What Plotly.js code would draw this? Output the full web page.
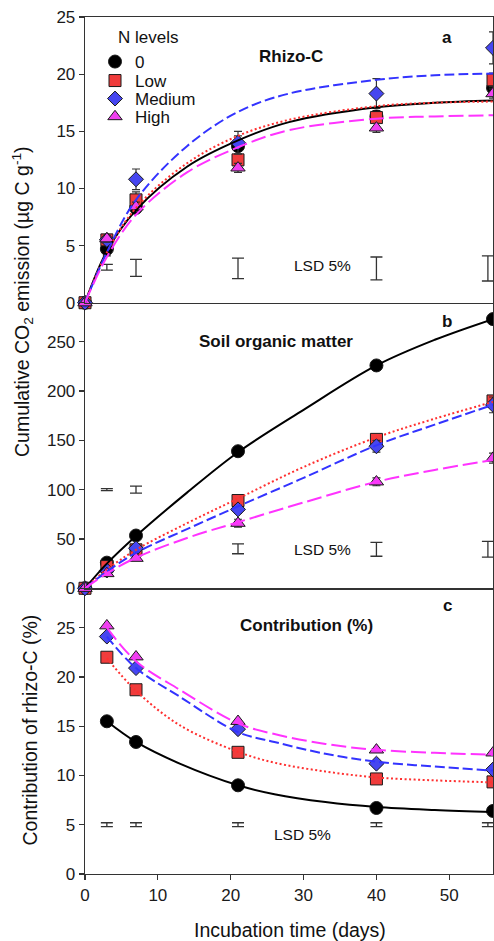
<!DOCTYPE html>
<html><head><meta charset="utf-8">
<script src="https://cdn.plot.ly/plotly-3.0.1.min.js"></script>
<style>html,body{margin:0;padding:0;background:#fff}#chart{width:494px;height:941px}</style>
</head><body><div id="chart"></div>
<script>
// ---------- data ----------
const levels = ['0', 'Low', 'Medium', 'High'];
const days = [0, 3, 7, 21, 40, 56];
const daysContrib = [3, 7, 21, 40, 56];

// Panel a: Rhizo-C cumulative CO2 (µg C g-1)
const rhizoZero   = [0, 4.7, 8.3, 13.7, 16.3, 18.8];
const rhizoLow    = [0, 5.5, 9.0, 12.5, 16.2, 19.5];
const rhizoMedium = [0, 5.5, 10.8, 14.0, 18.3, 22.3];
const rhizoHigh   = [0, 5.6, 8.4, 11.8, 15.3, 18.3];
const rhizoErrZero   = [0, 0.6, 0.4, 0.9, 0.5, 0.5];
const rhizoErrLow    = [0, 0.4, 0.7, 0.5, 0.4, 0.6];
const rhizoErrMedium = [0, 0.3, 0.9, 1.0, 1.3, 1.4];
const rhizoErrHigh   = [0, 0.3, 0.4, 0.4, 0.4, 0.4];

// Panel b: soil organic matter
const somZero   = [0, 26, 53.5, 139, 226, 273];
const somLow    = [0, 22, 39, 89, 151, 190];
const somMedium = [0, 18, 40.5, 80, 144, 186];
const somHigh   = [0, 15, 30.5, 66, 108, 132];
const somErrZero   = [0, 2, 3, 3, 3, 3];
const somErrLow    = [0, 2, 3, 3, 4, 4];
const somErrMedium = [0, 2, 3, 4, 6, 8];
const somErrHigh   = [0, 2, 2, 4, 4, 5];

// Panel c: contribution of rhizo-C (%)
const contribZero   = [15.5, 13.4, 9.0, 6.7, 6.4];
const contribLow    = [22.0, 18.7, 12.35, 9.65, 9.35];
const contribMedium = [24.1, 20.9, 14.7, 11.2, 10.6];
const contribHigh   = [25.2, 22.05, 15.5, 12.6, 12.3];

// Fitted curves
const fitDaysA = [0, 3, 7, 14, 21, 28, 40, 48, 56];
const fitRhizoZero   = [0, 4.5, 8.1, 11.9, 14.2, 15.8, 17.1, 17.5, 17.7];
const fitRhizoLow    = [0, 4.4, 8.3, 12.2, 14.6, 16.0, 17.2, 17.5, 17.6];
const fitRhizoMedium = [0, 4.4, 9.0, 13.7, 16.7, 18.3, 19.5, 19.9, 20.05];
const fitRhizoHigh   = [0, 4.0, 7.7, 11.4, 13.6, 15.1, 16.1, 16.3, 16.4];

const fitDaysB = [0, 3, 7, 14, 21, 30, 40, 48, 56];
const fitSomZero   = [0, 25, 53, 97, 138, 181, 226, 252, 273];
const fitSomLow    = [0, 19, 39, 66, 91, 123, 153, 172, 189];
const fitSomMedium = [0, 17, 36, 60, 83, 112, 145, 166, 186];
const fitSomHigh   = [0, 15, 31, 51, 67, 87, 108, 120, 130];

const fitDaysC = [3, 7, 13, 21, 26, 33, 40, 48, 56];
const fitContribZero   = [15.5, 13.4, 11.2, 9.0, 8.1, 7.3, 6.8, 6.5, 6.3];
const fitContribLow    = [21.9, 18.6, 15.1, 12.4, 11.3, 10.4, 9.8, 9.5, 9.3];
const fitContribMedium = [24.1, 20.9, 18.0, 14.4, 13.4, 12.2, 11.4, 10.9, 10.5];
const fitContribHigh   = [25.0, 21.6, 18.7, 15.3, 14.2, 13.2, 12.6, 12.3, 12.1];

// LSD 5% bars
const lsdDays = [3, 7, 21, 40, 55.3];
const lsdRhizo = [3.1, 3.05, 3.0, 3.0, 3.0];
const lsdRhizoHalf = [0.25, 0.75, 0.9, 1.0, 1.1];
const lsdSom = [100, 100, 40, 39.5, 39.5];
const lsdSomHalf = [1, 3.5, 5, 7, 8];
const lsdContrib = [5, 5, 5, 5, 5];
const lsdContribHalf = [0.2, 0.2, 0.2, 0.2, 0.2];

// ---------- styles ----------
const FONT = 'Arial, "Liberation Sans", sans-serif';
const markerStyles = [
  {symbol: 'circle', size: 13, color: '#000000'},
  {symbol: 'square', size: 12, color: '#F03C3C'},
  {symbol: 'diamond', size: 11.5, color: '#4646F0'},
  {symbol: 'triangle-up', size: 12.5, color: '#F040F0'}
];
const lineStyles = [
  {color: '#000000', dash: 'solid', width: 2},
  {color: '#FF3030', dash: '2px,2.5px', width: 2},
  {color: '#3333FF', dash: '10px,4px', width: 2},
  {color: '#FF33FF', dash: '15px,5px', width: 2}
];

const traces = [];
function lsdTrace(x, y, half, xa, ya) {
  traces.push({x: x, y: y, xaxis: xa, yaxis: ya, type: 'scatter', mode: 'markers',
    marker: {size: 2, opacity: 0}, showlegend: false, hoverinfo: 'skip',
    error_y: {type: 'data', array: half, symmetric: true, color: '#333333', thickness: 1.3, width: 6}});
}
lsdTrace(lsdDays, lsdRhizo, lsdRhizoHalf, 'x3', 'y3');
lsdTrace(lsdDays, lsdSom, lsdSomHalf, 'x2', 'y2');
lsdTrace(lsdDays, lsdContrib, lsdContribHalf, 'x', 'y');

function markerTrace(x, y, err, i, xa, ya, legendName) {
  const m = markerStyles[i];
  const t = {x: x, y: y, xaxis: xa, yaxis: ya, type: 'scatter', mode: 'markers', name: levels[i],
    marker: {symbol: m.symbol, size: m.size, color: m.color, line: {color: '#1a1a1a', width: 1}},
    showlegend: !!legendName, cliponaxis: false};
  if (legendName) t.legend = legendName;
  if (err) t.error_y = {type: 'data', array: err, symmetric: true, color: '#333333', thickness: 1.2, width: 4};
  traces.push(t);
}
function fitTrace(x, y, i, xa, ya) {
  const l = lineStyles[i];
  traces.push({x: x, y: y, xaxis: xa, yaxis: ya, type: 'scatter', mode: 'lines',
    line: {color: l.color, dash: l.dash, width: l.width, shape: 'spline', smoothing: 1},
    showlegend: false, hoverinfo: 'skip'});
}

const legendNames = ['legend', 'legend2', 'legend3', 'legend4'];
const rhizo = [rhizoZero, rhizoLow, rhizoMedium, rhizoHigh];
const rhizoErr = [rhizoErrZero, rhizoErrLow, rhizoErrMedium, rhizoErrHigh];
const som = [somZero, somLow, somMedium, somHigh];
const somErr = [somErrZero, somErrLow, somErrMedium, somErrHigh];
const contrib = [contribZero, contribLow, contribMedium, contribHigh];
const fitRhizo = [fitRhizoZero, fitRhizoLow, fitRhizoMedium, fitRhizoHigh];
const fitSom = [fitSomZero, fitSomLow, fitSomMedium, fitSomHigh];
const fitContrib = [fitContribZero, fitContribLow, fitContribMedium, fitContribHigh];

for (let i = 0; i < 4; i++) markerTrace(days, rhizo[i], rhizoErr[i], i, 'x3', 'y3', legendNames[i]);
for (let i = 0; i < 4; i++) fitTrace(fitDaysA, fitRhizo[i], i, 'x3', 'y3');
for (let i = 0; i < 4; i++) markerTrace(days, som[i], somErr[i], i, 'x2', 'y2', null);
for (let i = 0; i < 4; i++) fitTrace(fitDaysB, fitSom[i], i, 'x2', 'y2');
for (let i = 0; i < 4; i++) markerTrace(daysContrib, contrib[i], null, i, 'x', 'y', null);
for (let i = 0; i < 4; i++) fitTrace(fitDaysC, fitContrib[i], i, 'x', 'y');

// ---------- layout ----------
const L = 85, T = 17, W = 408, H = 857;
const px = p => (p - L) / W;
const py = p => (T + H - p) / H;

const axisCommon = {showline: true, linecolor: '#333333', linewidth: 1.3,
  showgrid: false, zeroline: false, tickfont: {family: FONT, size: 17, color: '#1a1a1a'}};
const xCommon = Object.assign({}, axisCommon, {range: [0, 56], tickvals: [0, 10, 20, 30, 40, 50]});
const yCommon = Object.assign({}, axisCommon, {mirror: true, ticks: 'outside', ticklen: 5, tickwidth: 1.2, tickcolor: '#333333'});

function ann(text, x, y, size, opts) {
  return Object.assign({text: text, x: px(x), y: py(y), xref: 'paper', yref: 'paper',
    xanchor: 'center', yanchor: 'middle', showarrow: false,
    font: {family: FONT, size: size, color: '#111111'}}, opts || {});
}

function legendAt(rowY) {
  return {x: px(95), y: py(rowY), xref: 'paper', yref: 'paper', xanchor: 'left', yanchor: 'middle',
    bgcolor: 'rgba(0,0,0,0)', borderwidth: 0, font: {family: FONT, size: 17, color: '#111111'},
    itemwidth: 30, itemclick: false, itemdoubleclick: false};
}

const layout = {
  width: 494, height: 941,
  margin: {l: L, r: 494 - L - W, t: T, b: 941 - T - H, pad: 0},
  paper_bgcolor: '#ffffff', plot_bgcolor: '#ffffff',
  font: {family: FONT, size: 17, color: '#111111'},
  showlegend: true,
  legend: legendAt(62), legend2: legendAt(81), legend3: legendAt(99), legend4: legendAt(117),
  xaxis: Object.assign({}, xCommon, {domain: [0, 1], anchor: 'y', mirror: false, ticks: 'outside', ticklen: 5, tickwidth: 1.2, tickcolor: '#333333'}),
  xaxis2: Object.assign({}, xCommon, {domain: [0, 1], anchor: 'y2', mirror: false, ticks: '', showticklabels: false}),
  xaxis3: Object.assign({}, xCommon, {domain: [0, 1], anchor: 'y3', mirror: true, ticks: '', showticklabels: false}),
  yaxis: Object.assign({}, yCommon, {domain: [0, 0.3334], range: [0, 29], tickvals: [0, 5, 10, 15, 20, 25]}),
  yaxis2: Object.assign({}, yCommon, {domain: [0.3334, 0.6666], range: [0, 289.6], tickvals: [0, 50, 100, 150, 200, 250]}),
  yaxis3: Object.assign({}, yCommon, {domain: [0.6666, 1], range: [0, 25], tickvals: [0, 5, 10, 15, 20, 25]}),
  annotations: [
    ann('N levels', 147.5, 37, 17),
    ann('<b>a</b>', 447, 37, 17),
    ann('<b>Rhizo-C</b>', 291, 57, 17),
    ann('<b>b</b>', 447, 321.7, 17),
    ann('<b>Soil organic matter</b>', 276, 341.7, 17),
    ann('<b>c</b>', 447, 605.7, 17),
    ann('<b>Contribution (%)</b>', 306, 625.7, 17),
    ann('LSD 5%', 322.3, 265, 15.5),
    ann('LSD 5%', 322, 549.3, 15.5),
    ann('LSD 5%', 302.3, 834, 15.5),
    ann('Cumulative CO<sub>2</sub> emission (µg C g<sup>-1</sup>)', 22, 302, 19.5, {textangle: -90}),
    ann('Contribution of rhizo-C (%)', 29, 730.5, 19.5, {textangle: -90}),
    ann('Incubation time (days)', 289.5, 930, 19.5)
  ]
};

Plotly.newPlot('chart', traces, layout, {staticPlot: true, displayModeBar: false});
</script>
</body></html>
